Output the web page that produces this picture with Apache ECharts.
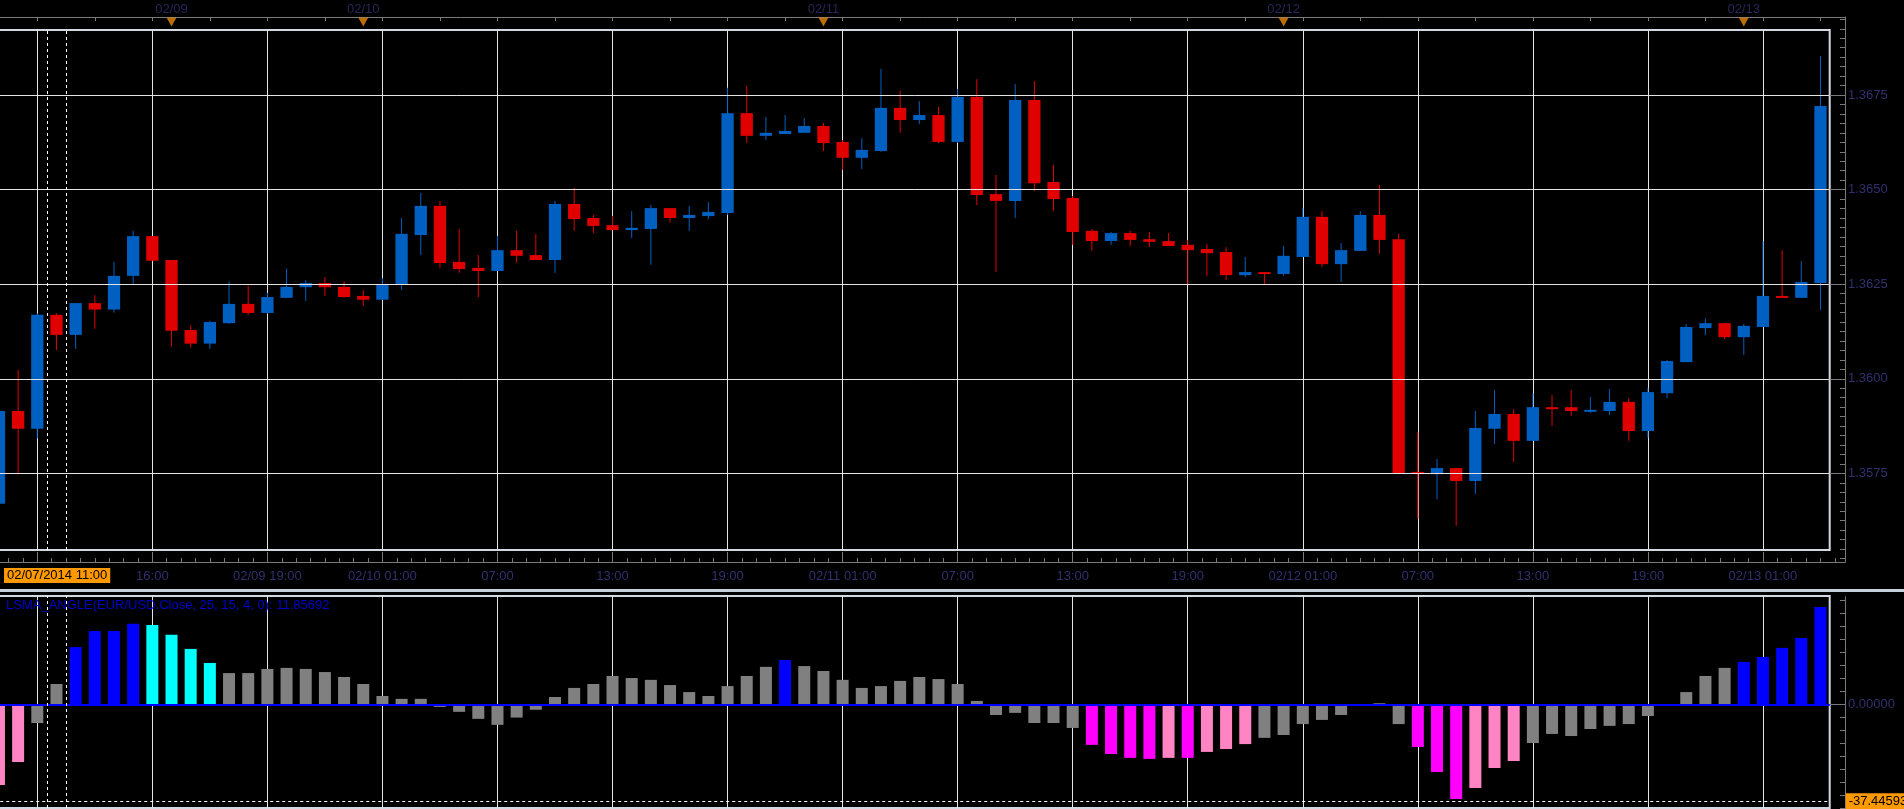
<!DOCTYPE html>
<html>
<head>
<meta charset="utf-8">
<title>EUR/USD H1 - LSMA_ANGLE</title>
<script src="https://cdn.jsdelivr.net/npm/echarts@6/dist/echarts.min.js"></script>
<style>
html, body { margin: 0; padding: 0; background: #000; }
#chart { width: 1904px; height: 809px; }
</style>
</head>
<body>
<div id="chart"></div>
<script>
// hourly bars, x index 0 = 02/07 10:00, first visible bar is index -2
var firstIdx = -2;

var candleOpen = [
    1.35670, 1.35915, 1.35868, 1.36169, 1.36116, 1.36200, 1.36183, 1.36272, 1.36377, 1.36314,
    1.36129, 1.36093, 1.36147, 1.36198, 1.36174, 1.36214, 1.36242, 1.36253, 1.36243, 1.36219,
    1.36209, 1.36248, 1.36380, 1.36457, 1.36309, 1.36293, 1.36285, 1.36340, 1.36327, 1.36314,
    1.36462, 1.36425, 1.36406, 1.36393, 1.36396, 1.36451, 1.36425, 1.36430, 1.36438, 1.36702,
    1.36642, 1.36647, 1.36650, 1.36668, 1.36626, 1.36584, 1.36602, 1.36716, 1.36684, 1.36697,
    1.36626, 1.36745, 1.36488, 1.36470, 1.36737, 1.36520, 1.36478, 1.36391, 1.36364, 1.36385,
    1.36369, 1.36364, 1.36354, 1.36343, 1.36335, 1.36274, 1.36282, 1.36277, 1.36322, 1.36428,
    1.36303, 1.36338, 1.36433, 1.36369, 1.35754, 1.35748, 1.35764, 1.35730, 1.35868, 1.35907,
    1.35836, 1.35925, 1.35925, 1.35915, 1.35915, 1.35939, 1.35862, 1.35962, 1.36044, 1.36134,
    1.36147, 1.36110, 1.36137, 1.36219, 1.36214, 1.36253
];
var candleClose = [
    1.35915, 1.35868, 1.36169, 1.36116, 1.36200, 1.36183, 1.36272, 1.36377, 1.36312, 1.36127,
    1.36093, 1.36150, 1.36198, 1.36174, 1.36216, 1.36243, 1.36253, 1.36242, 1.36216, 1.36209,
    1.36250, 1.36383, 1.36457, 1.36306, 1.36290, 1.36285, 1.36340, 1.36325, 1.36314, 1.36462,
    1.36422, 1.36404, 1.36393, 1.36399, 1.36451, 1.36425, 1.36433, 1.36441, 1.36702, 1.36642,
    1.36650, 1.36655, 1.36668, 1.36623, 1.36584, 1.36605, 1.36716, 1.36684, 1.36697, 1.36626,
    1.36745, 1.36486, 1.36470, 1.36737, 1.36517, 1.36475, 1.36388, 1.36364, 1.36385, 1.36367,
    1.36362, 1.36351, 1.36340, 1.36332, 1.36274, 1.36282, 1.36277, 1.36325, 1.36428, 1.36303,
    1.36340, 1.36433, 1.36367, 1.35750, 1.35748, 1.35764, 1.35730, 1.35870, 1.35907, 1.35836,
    1.35925, 1.35923, 1.35915, 1.35918, 1.35939, 1.35862, 1.35965, 1.36047, 1.36137, 1.36147,
    1.36110, 1.36140, 1.36219, 1.36214, 1.36256, 1.36721
];
var candleHigh = [
    1.35920, 1.36023, 1.36173, 1.36173, 1.36200, 1.36221, 1.36309, 1.36391, 1.36377, 1.36314,
    1.36142, 1.36153, 1.36257, 1.36246, 1.36227, 1.36291, 1.36261, 1.36269, 1.36258, 1.36235,
    1.36266, 1.36425, 1.36491, 1.36470, 1.36396, 1.36327, 1.36377, 1.36391, 1.36383, 1.36470,
    1.36504, 1.36433, 1.36430, 1.36443, 1.36459, 1.36451, 1.36457, 1.36467, 1.36769, 1.36774,
    1.36692, 1.36697, 1.36689, 1.36676, 1.36631, 1.36636, 1.36819, 1.36761, 1.36734, 1.36718,
    1.36766, 1.36792, 1.36539, 1.36779, 1.36787, 1.36565, 1.36483, 1.36396, 1.36388, 1.36391,
    1.36388, 1.36385, 1.36367, 1.36356, 1.36348, 1.36322, 1.36282, 1.36351, 1.36451, 1.36443,
    1.36359, 1.36443, 1.36512, 1.36383, 1.35859, 1.35788, 1.35764, 1.35915, 1.35970, 1.35920,
    1.35962, 1.35957, 1.35970, 1.35952, 1.35973, 1.35949, 1.35976, 1.36050, 1.36145, 1.36160,
    1.36147, 1.36145, 1.36364, 1.36340, 1.36311, 1.36853
];
var candleLow = [
    1.35660, 1.35750, 1.35843, 1.36076, 1.36079, 1.36132, 1.36175, 1.36251, 1.36312, 1.36085,
    1.36083, 1.36079, 1.36145, 1.36169, 1.36172, 1.36213, 1.36206, 1.36219, 1.36214, 1.36192,
    1.36209, 1.36235, 1.36327, 1.36293, 1.36280, 1.36216, 1.36285, 1.36306, 1.36314, 1.36280,
    1.36391, 1.36385, 1.36393, 1.36372, 1.36301, 1.36412, 1.36391, 1.36422, 1.36433, 1.36623,
    1.36631, 1.36647, 1.36650, 1.36602, 1.36552, 1.36554, 1.36600, 1.36650, 1.36673, 1.36623,
    1.36623, 1.36459, 1.36282, 1.36425, 1.36496, 1.36443, 1.36354, 1.36338, 1.36354, 1.36351,
    1.36348, 1.36351, 1.36250, 1.36272, 1.36261, 1.36269, 1.36248, 1.36272, 1.36322, 1.36295,
    1.36256, 1.36338, 1.36330, 1.35750, 1.35630, 1.35682, 1.35611, 1.35696, 1.35828, 1.35780,
    1.35836, 1.35875, 1.35902, 1.35910, 1.35904, 1.35836, 1.35844, 1.35949, 1.36044, 1.36116,
    1.36105, 1.36063, 1.36137, 1.36214, 1.36214, 1.36182
];

// LSMA_ANGLE histogram, same x index as the candles
var lsmaValue = [
    -31.0, -22.2, -7.2, 7.8, 22.0, 28.2, 28.2, 31.0, 30.5, 26.7,
    21.3, 15.9, 12.0, 12.0, 13.6, 14.0, 13.6, 12.4, 10.5, 7.8,
    3.2, 2.1, 2.1, -1.0, -2.9, -5.6, -7.9, -5.1, -2.1, 2.8,
    6.3, 7.8, 10.9, 10.1, 9.4, 7.4, 4.7, 3.2, 7.0, 10.9,
    14.4, 17.0, 14.7, 12.8, 9.4, 6.3, 7.0, 9.0, 10.5, 9.7,
    7.8, 1.3, -4.1, -3.3, -7.2, -7.2, -9.1, -15.6, -19.1, -20.6,
    -21.0, -20.6, -20.6, -18.3, -17.2, -15.3, -12.9, -11.8, -7.6, -6.0,
    -4.1, -0.3, 0.4, -7.6, -16.4, -26.0, -36.4, -32.2, -24.5, -21.8,
    -14.9, -11.4, -12.2, -9.5, -8.3, -7.6, -4.5, -0.6, 4.7, 10.9,
    14.0, 16.3, 18.2, 21.7, 25.5, 37.4
];
// g gray, b blue, c cyan, m magenta, p pink
var lsmaColor = [
    'p','p','g','g','b','b','b','b','c','c',
    'c','c','g','g','g','g','g','g','g','g',
    'g','g','g','g','g','g','g','g','g','g',
    'g','g','g','g','g','g','g','g','g','g',
    'g','b','g','g','g','g','g','g','g','g',
    'g','g','g','g','g','g','g','m','m','m',
    'm','p','m','p','p','p','g','g','g','g',
    'g','g','g','g','m','m','m','p','p','p',
    'g','g','g','g','g','g','g','g','g','g',
    'g','b','b','b','b','b'
];

var timeTickIdx = [0, 6, 12, 18, 24, 30, 36, 42, 48, 54, 60, 66, 72, 78, 84, 90];
var timeTickText = ['10:00', '16:00', '02/09 19:00', '02/10 01:00', '07:00', '13:00', '19:00',
    '02/11 01:00', '07:00', '13:00', '19:00', '02/12 01:00', '07:00', '13:00', '19:00', '02/13 01:00'];
var dayIdx = [7, 17, 41, 65, 89];
var dayText = ['02/09', '02/10', '02/11', '02/12', '02/13'];
var priceTicks = [1.3575, 1.3600, 1.3625, 1.3650, 1.3675];
var lsmaLow = -37.44593;
var cursorIdx = 1;

// layout
var X0 = 37.3, STEP = 19.174;
var LEFT = X0 - 6 * STEP;
var FRAME_R = 1829.7, AXIS_R = 1845;
var xMaxFrame = -6 + (FRAME_R - LEFT) / STEP;
var xMaxAxis = -6 + (AXIS_R - LEFT) / STEP;

var PY = 95, PPX = 37840;          // y of 1.3675, px per price unit
function priceAt(y) { return 1.3675 - (y - PY) / PPX; }
function yAt(p) { return PY - (p - 1.3675) * PPX; }
var g1Top = yAt(1.3695), g1Bottom = yAt(1.35525);

var ZY = 704.3, IPX = 2.601;       // y of indicator zero, px per unit

var BLUE = '#0060c2', RED = '#e00000';
var PALETTE = { g: '#808080', b: '#0000ff', c: '#00ffff', m: '#ff00ff', p: '#ff84c4' };
var gridLine = '#e4e4e4', axisGray = '#7a7a7a', navy = '#30306e';
var font = 'Liberation Sans';

var candles = candleOpen.map(function (o, i) {
    return [firstIdx + i, o, candleClose[i], candleLow[i], candleHigh[i]];
});
var bars = lsmaValue.map(function (v, i) {
    return { value: [firstIdx + i, v], itemStyle: { color: PALETTE[lsmaColor[i]] } };
});

function renderCandle(params, api) {
    var x = api.value(0), o = api.value(1), c = api.value(2), l = api.value(3), h = api.value(4);
    var pO = api.coord([x, o]), pC = api.coord([x, c]);
    var pL = api.coord([x, l]), pH = api.coord([x, h]);
    var w = api.size([1, 0])[0] * 0.64;
    var color = c > o ? BLUE : RED;
    var top = Math.min(pO[1], pC[1]);
    var hgt = Math.max(Math.abs(pO[1] - pC[1]), 2);
    return {
        type: 'group',
        children: [
            { type: 'line', shape: { x1: pH[0], y1: pH[1], x2: pL[0], y2: pL[1] }, style: { stroke: color, lineWidth: 1 } },
            { type: 'rect', shape: { x: pO[0] - w / 2, y: top, width: w, height: hgt }, style: { fill: color } }
        ]
    };
}

function timeLabel(v) {
    for (var i = 0; i < timeTickIdx.length; i++) {
        if (Math.abs(timeTickIdx[i] - v) < 1e-6) return timeTickText[i];
    }
    return '';
}
function priceLabel(v) {
    for (var i = 0; i < priceTicks.length; i++) {
        if (Math.abs(priceTicks[i] - v) < 1e-7) return priceTicks[i].toFixed(4);
    }
    return '';
}

var hidden = { show: false };
var noLine = { show: false, onZero: false };

var chart = echarts.init(document.getElementById('chart'), null, { renderer: 'canvas' });

var option = {
    backgroundColor: '#000',
    animation: false,
    textStyle: { fontFamily: font },
    title: {
        text: 'LSMA_ANGLE(EUR/USD.Close, 25, 15, 4, 0): 11.85692',
        left: 6, top: 599, padding: 0,
        textStyle: { color: '#0000cc', fontSize: 13, fontWeight: 'normal', fontFamily: font }
    },
    grid: [
        { left: LEFT, top: 30, width: FRAME_R - LEFT, height: 520, show: true, borderColor: '#d3d9e2', borderWidth: 2, outerBoundsMode: 'none' },
        { left: LEFT, top: g1Top, width: AXIS_R - LEFT, height: g1Bottom - g1Top, outerBoundsMode: 'none' },
        { left: LEFT, top: 17, width: AXIS_R - LEFT, height: 10, outerBoundsMode: 'none' },
        { left: 0, top: 17, width: AXIS_R, height: 545, outerBoundsMode: 'none' },
        { left: LEFT, top: 596, width: FRAME_R - LEFT, height: 212, show: true, borderColor: '#d3d9e2', borderWidth: 2, outerBoundsMode: 'none' },
        { left: 0, top: ZY - 40 * IPX, width: AXIS_R, height: 80 * IPX, outerBoundsMode: 'none' },
        { left: 0, top: 596.7, width: AXIS_R, height: 212.3, outerBoundsMode: 'none' }
    ],
    xAxis: [
        {
            gridIndex: 0, type: 'value', min: -6, max: xMaxFrame, interval: 6,
            axisLine: noLine, axisTick: hidden, axisLabel: hidden,
            splitLine: { show: true, showMaxLine: false, lineStyle: { color: gridLine, width: 1 } }
        },
        {
            gridIndex: 1, type: 'value', min: -6, max: xMaxAxis, interval: 6, position: 'bottom',
            offset: 562 - g1Bottom,
            axisLine: { show: true, onZero: false, lineStyle: { color: axisGray, width: 1 } },
            axisTick: { show: true, inside: true, length: 10, lineStyle: { color: axisGray } },
            minorTick: { show: true, splitNumber: 8, length: 4, lineStyle: { color: axisGray } },
            axisLabel: { show: true, margin: 8, color: navy, fontSize: 13, fontFamily: font, formatter: timeLabel },
            splitLine: hidden
        },
        {
            gridIndex: 2, type: 'value', min: -6, max: xMaxAxis, interval: 3, position: 'top',
            axisLine: { show: true, onZero: false, lineStyle: { color: axisGray, width: 1 } },
            axisTick: { show: true, inside: true, length: 4, lineStyle: { color: axisGray } },
            axisLabel: hidden, splitLine: hidden
        },
        { gridIndex: 3, type: 'value', min: 0, max: 1, show: false },
        {
            gridIndex: 4, type: 'value', min: -6, max: xMaxFrame, interval: 6,
            axisLine: noLine, axisTick: hidden, axisLabel: hidden,
            splitLine: { show: true, showMaxLine: false, lineStyle: { color: gridLine, width: 1 } }
        },
        { gridIndex: 5, type: 'value', min: 0, max: 1, show: false },
        { gridIndex: 6, type: 'value', min: 0, max: 1, show: false }
    ],
    yAxis: [
        { gridIndex: 0, type: 'value', min: priceAt(550), max: priceAt(30), show: false },
        {
            gridIndex: 1, type: 'value', position: 'right', min: 1.35525, max: 1.3695, interval: 0.00025,
            axisLine: noLine,
            axisTick: { show: true, inside: true, length: 5, lineStyle: { color: axisGray } },
            axisLabel: { show: true, margin: 3, color: navy, fontSize: 13, fontFamily: font, formatter: priceLabel },
            splitLine: hidden
        },
        { gridIndex: 2, type: 'value', min: 0, max: 1, show: false },
        {
            gridIndex: 3, type: 'value', position: 'right', min: 0, max: 1,
            axisLine: { show: true, onZero: false, lineStyle: { color: axisGray, width: 1 } },
            axisTick: hidden, axisLabel: hidden, splitLine: hidden
        },
        { gridIndex: 4, type: 'value', min: (ZY - 808) / IPX, max: (ZY - 596) / IPX, show: false },
        {
            gridIndex: 5, type: 'value', position: 'right', min: -40, max: 40, interval: 5,
            axisLine: noLine,
            axisTick: { show: true, inside: true, length: 5, lineStyle: { color: axisGray } },
            axisLabel: {
                show: true, margin: 3, color: navy, fontSize: 13, fontFamily: font,
                formatter: function (v) { return Math.abs(v) < 1e-9 ? '0.00000' : ''; }
            },
            splitLine: hidden
        },
        {
            gridIndex: 6, type: 'value', position: 'right', min: 0, max: 1,
            axisLine: { show: true, onZero: false, lineStyle: { color: axisGray, width: 1 } },
            axisTick: hidden, axisLabel: hidden, splitLine: hidden
        }
    ],
    series: [
        {
            // gray major ticks reaching the price scale
            type: 'line', xAxisIndex: 1, yAxisIndex: 1, data: [], z: 0, silent: true,
            markLine: {
                silent: true, precision: 5, symbol: ['none', 'none'], label: { show: false },
                lineStyle: { color: axisGray, width: 1, type: 'solid' },
                data: priceTicks.map(function (p) { return { yAxis: p }; })
            }
        },
        {
            // horizontal price grid inside the frame
            type: 'line', xAxisIndex: 0, yAxisIndex: 0, data: [], z: 1, silent: true,
            markLine: {
                silent: true, precision: 5, symbol: ['none', 'none'], label: { show: false },
                lineStyle: { color: gridLine, width: 1, type: 'solid' },
                data: priceTicks.map(function (p) { return { yAxis: p }; })
            }
        },
        {
            name: 'EUR/USD', type: 'custom', xAxisIndex: 0, yAxisIndex: 0, z: 3,
            renderItem: renderCandle,
            encode: { x: 0, y: [1, 2, 3, 4] },
            data: candles
        },
        {
            // cursor bar in price pane
            type: 'line', xAxisIndex: 0, yAxisIndex: 0, data: [], z: 4, silent: true,
            markLine: {
                silent: true, precision: 5, symbol: ['none', 'none'], label: { show: false },
                lineStyle: { color: '#ffffff', width: 1, type: [3, 3] },
                data: [{ xAxis: cursorIdx - 0.5 }, { xAxis: cursorIdx + 0.5 }]
            }
        },
        {
            name: 'days', type: 'scatter', xAxisIndex: 2, yAxisIndex: 2,
            symbol: 'triangle', symbolRotate: 180, symbolSize: [10, 9],
            itemStyle: { color: '#e8890a' },
            label: {
                show: true, position: 'top', distance: 2, color: navy, fontSize: 13, fontFamily: font,
                formatter: function (p) { return dayText[p.dataIndex]; }
            },
            data: dayIdx.map(function (d) { return [d, 0.5]; })
        },
        {
            name: 'LSMA_ANGLE', type: 'bar', xAxisIndex: 4, yAxisIndex: 4, z: 2,
            barWidth: 12,
            data: bars
        },
        {
            type: 'line', xAxisIndex: 5, yAxisIndex: 5, data: [], z: 0, silent: true,
            markLine: {
                silent: true, precision: 5, symbol: ['none', 'none'], label: { show: false },
                lineStyle: { color: axisGray, width: 1, type: 'solid' },
                data: [{ yAxis: 0 }]
            }
        },
        {
            type: 'line', xAxisIndex: 4, yAxisIndex: 4, data: [], z: 5, silent: true,
            markLine: {
                silent: true, precision: 5, symbol: ['none', 'none'], label: { show: false },
                data: [
                    { yAxis: 0, lineStyle: { color: '#0000ff', width: 2, type: 'solid' } },
                    {
                        yAxis: lsmaLow, lineStyle: { color: '#ffffff', width: 1, type: [3, 3] },
                        label: {
                            show: true, position: 'end', distance: 16,
                            formatter: lsmaLow.toFixed(5),
                            backgroundColor: '#ff9900', color: '#000', padding: [2, 3],
                            fontSize: 13, fontFamily: font
                        }
                    },
                    { xAxis: cursorIdx - 0.5, lineStyle: { color: '#ffffff', width: 1, type: [3, 3] } },
                    { xAxis: cursorIdx + 0.5, lineStyle: { color: '#ffffff', width: 1, type: [3, 3] } }
                ]
            }
        }
    ],
    graphic: [
        { type: 'rect', left: 0, top: 589, z: 100, silent: true, shape: { width: 1904, height: 3 }, style: { fill: '#c6d0dc' } },
        {
            type: 'text', left: 4, top: 568, z: 100, silent: true,
            style: { text: '02/07/2014 11:00', fill: '#000', font: '13px "Liberation Sans"', backgroundColor: '#ff9900', padding: [1, 3] }
        }
    ]
};

chart.setOption(option);
</script>
</body>
</html>
